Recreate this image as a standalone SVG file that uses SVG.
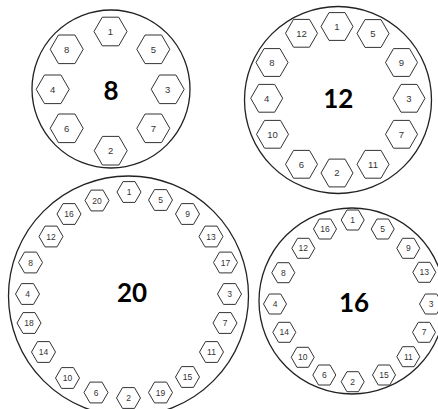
<svg xmlns="http://www.w3.org/2000/svg" xmlns:xlink="http://www.w3.org/1999/xlink" width="438" height="409" viewBox="0 0 438 409">
<style>
.disk{fill:#fff;stroke:#222;stroke-width:1.3}
.hx{fill:#fff;stroke:#333;stroke-width:1}
.n{font-family:"Liberation Sans",Arial,sans-serif;fill:#333;text-anchor:middle}
.a .n,.b .n{font-size:9.5px}
.c .n,.d .n{font-size:8.5px}
.big{font-family:Lato,"Open Sans",sans-serif;font-weight:bold;font-size:26px;fill:#000;text-anchor:middle}
</style>
<defs>
<polygon id="hL" points="16.5,0 8.25,14.3 -8.25,14.3 -16.5,0 -8.25,-14.3 8.25,-14.3"/>
<polygon id="hM" points="16,0 8,13.9 -8,13.9 -16,0 -8,-13.9 8,-13.9"/>
<polygon id="hS" points="12,0 6,10.4 -6,10.4 -12,0 -6,-10.4 6,-10.4"/>
<polygon id="hXS" points="11.5,0 5.75,10 -5.75,10 -11.5,0 -5.75,-10 5.75,-10"/>
</defs>
<rect width="438" height="409" fill="#fff"/>

<g id="disk8" class="a">
<circle class="disk" cx="111" cy="89" r="79"/>
<text class="big" x="111" y="100">8</text>
<g id="a1"><use href="#hL" class="hx" x="110.5" y="31.5"/><text class="n" x="110.5" y="34.9">1</text></g>
<g id="a5"><use href="#hL" class="hx" x="153.3" y="49.3"/><text class="n" x="153.3" y="52.7">5</text></g>
<g id="a3"><use href="#hL" class="hx" x="167.7" y="89.3"/><text class="n" x="167.7" y="92.7">3</text></g>
<g id="a7"><use href="#hL" class="hx" x="153.3" y="128.3"/><text class="n" x="153.3" y="131.7">7</text></g>
<g id="a2"><use href="#hL" class="hx" x="110.7" y="150.7"/><text class="n" x="110.7" y="154.1">2</text></g>
<g id="a6"><use href="#hL" class="hx" x="66.7" y="128.3"/><text class="n" x="66.7" y="131.7">6</text></g>
<g id="a4"><use href="#hL" class="hx" x="52.7" y="89.3"/><text class="n" x="52.7" y="92.7">4</text></g>
<g id="a8"><use href="#hL" class="hx" x="66.7" y="49.3"/><text class="n" x="66.7" y="52.7">8</text></g>
</g>

<g id="disk12" class="b">
<circle class="disk" cx="338" cy="100" r="93.5"/>
<text class="big" x="338.3" y="107.6">12</text>
<g id="b1"><use href="#hM" class="hx" x="337" y="26.5"/><text class="n" x="337" y="29.9">1</text></g>
<g id="b5"><use href="#hM" class="hx" x="373" y="33.5"/><text class="n" x="373" y="36.9">5</text></g>
<g id="b9"><use href="#hM" class="hx" x="401.5" y="62.5"/><text class="n" x="401.5" y="65.9">9</text></g>
<g id="b3"><use href="#hM" class="hx" x="409" y="98.3"/><text class="n" x="409" y="101.7">3</text></g>
<g id="b7"><use href="#hM" class="hx" x="401.5" y="134.3"/><text class="n" x="401.5" y="137.7">7</text></g>
<g id="b11"><use href="#hM" class="hx" x="373" y="164.3"/><text class="n" x="373" y="167.7">11</text></g>
<g id="b2"><use href="#hM" class="hx" x="337" y="173"/><text class="n" x="337" y="176.4">2</text></g>
<g id="b6"><use href="#hM" class="hx" x="301.5" y="164.3"/><text class="n" x="301.5" y="167.7">6</text></g>
<g id="b10"><use href="#hM" class="hx" x="272.5" y="134.3"/><text class="n" x="272.5" y="137.7">10</text></g>
<g id="b4"><use href="#hM" class="hx" x="266.7" y="98.3"/><text class="n" x="266.7" y="101.7">4</text></g>
<g id="b8"><use href="#hM" class="hx" x="272" y="62.5"/><text class="n" x="272" y="65.9">8</text></g>
<g id="b12"><use href="#hM" class="hx" x="301.5" y="33.3"/><text class="n" x="301.5" y="36.7">12</text></g>
</g>

<g id="disk20" class="c">
<circle class="disk" cx="128.5" cy="296" r="120"/>
<text class="big" x="132" y="302.3">20</text>
<g id="c1"><use href="#hS" class="hx" x="129" y="192"/><text class="n" x="129" y="195">1</text></g>
<g id="c5"><use href="#hS" class="hx" x="160.5" y="200"/><text class="n" x="160.5" y="203">5</text></g>
<g id="c9"><use href="#hS" class="hx" x="187.5" y="214"/><text class="n" x="187.5" y="217">9</text></g>
<g id="c13"><use href="#hS" class="hx" x="211" y="236.5"/><text class="n" x="211" y="239.5">13</text></g>
<g id="c17"><use href="#hS" class="hx" x="225.5" y="262.5"/><text class="n" x="225.5" y="265.5">17</text></g>
<g id="c3"><use href="#hS" class="hx" x="229.5" y="294"/><text class="n" x="229.5" y="297">3</text></g>
<g id="c7"><use href="#hS" class="hx" x="225" y="323"/><text class="n" x="225" y="326">7</text></g>
<g id="c11"><use href="#hS" class="hx" x="211.5" y="352"/><text class="n" x="211.5" y="355">11</text></g>
<g id="c15"><use href="#hS" class="hx" x="187.5" y="377"/><text class="n" x="187.5" y="380">15</text></g>
<g id="c19"><use href="#hS" class="hx" x="160.5" y="392.5"/><text class="n" x="160.5" y="395.5">19</text></g>
<g id="c2"><use href="#hS" class="hx" x="128.5" y="398"/><text class="n" x="128.5" y="401">2</text></g>
<g id="c6"><use href="#hS" class="hx" x="96" y="392.5"/><text class="n" x="96" y="395.5">6</text></g>
<g id="c10"><use href="#hS" class="hx" x="67.5" y="378"/><text class="n" x="67.5" y="381">10</text></g>
<g id="c14"><use href="#hS" class="hx" x="43.5" y="352"/><text class="n" x="43.5" y="355">14</text></g>
<g id="c18"><use href="#hS" class="hx" x="29" y="323"/><text class="n" x="29" y="326">18</text></g>
<g id="c4"><use href="#hS" class="hx" x="27.5" y="294"/><text class="n" x="27.5" y="297">4</text></g>
<g id="c8"><use href="#hS" class="hx" x="30.5" y="262.5"/><text class="n" x="30.5" y="265.5">8</text></g>
<g id="c12"><use href="#hS" class="hx" x="51" y="236.5"/><text class="n" x="51" y="239.5">12</text></g>
<g id="c16"><use href="#hS" class="hx" x="69" y="214"/><text class="n" x="69" y="217">16</text></g>
<g id="c20"><use href="#hS" class="hx" x="97" y="200.5"/><text class="n" x="97" y="203.5">20</text></g>
</g>

<g id="disk16" class="d">
<circle class="disk" cx="352" cy="301" r="93"/>
<text class="big" x="354" y="312.3">16</text>
<g id="d1"><use href="#hXS" class="hx" x="352.7" y="220"/><text class="n" x="352.7" y="223">1</text></g>
<g id="d5"><use href="#hXS" class="hx" x="382.7" y="229"/><text class="n" x="382.7" y="232">5</text></g>
<g id="d9"><use href="#hXS" class="hx" x="408.3" y="248.3"/><text class="n" x="408.3" y="251.3">9</text></g>
<g id="d13"><use href="#hXS" class="hx" x="424.3" y="272.3"/><text class="n" x="424.3" y="275.3">13</text></g>
<g id="d3"><use href="#hXS" class="hx" x="431" y="304"/><text class="n" x="431" y="307">3</text></g>
<g id="d7"><use href="#hXS" class="hx" x="424" y="332.3"/><text class="n" x="424" y="335.3">7</text></g>
<g id="d11"><use href="#hXS" class="hx" x="408.3" y="356.7"/><text class="n" x="408.3" y="359.7">11</text></g>
<g id="d15"><use href="#hXS" class="hx" x="384" y="375"/><text class="n" x="384" y="378">15</text></g>
<g id="d2"><use href="#hXS" class="hx" x="352.7" y="381.7"/><text class="n" x="352.7" y="384.7">2</text></g>
<g id="d6"><use href="#hXS" class="hx" x="324.3" y="375"/><text class="n" x="324.3" y="378">6</text></g>
<g id="d10"><use href="#hXS" class="hx" x="302.7" y="357.3"/><text class="n" x="302.7" y="360.3">10</text></g>
<g id="d14"><use href="#hXS" class="hx" x="284.3" y="332.3"/><text class="n" x="284.3" y="335.3">14</text></g>
<g id="d4"><use href="#hXS" class="hx" x="275" y="304"/><text class="n" x="275" y="307">4</text></g>
<g id="d8"><use href="#hXS" class="hx" x="283.3" y="272.7"/><text class="n" x="283.3" y="275.7">8</text></g>
<g id="d12"><use href="#hXS" class="hx" x="303.3" y="248.3"/><text class="n" x="303.3" y="251.3">12</text></g>
<g id="d16"><use href="#hXS" class="hx" x="325" y="229"/><text class="n" x="325" y="232">16</text></g>
</g>
</svg>
